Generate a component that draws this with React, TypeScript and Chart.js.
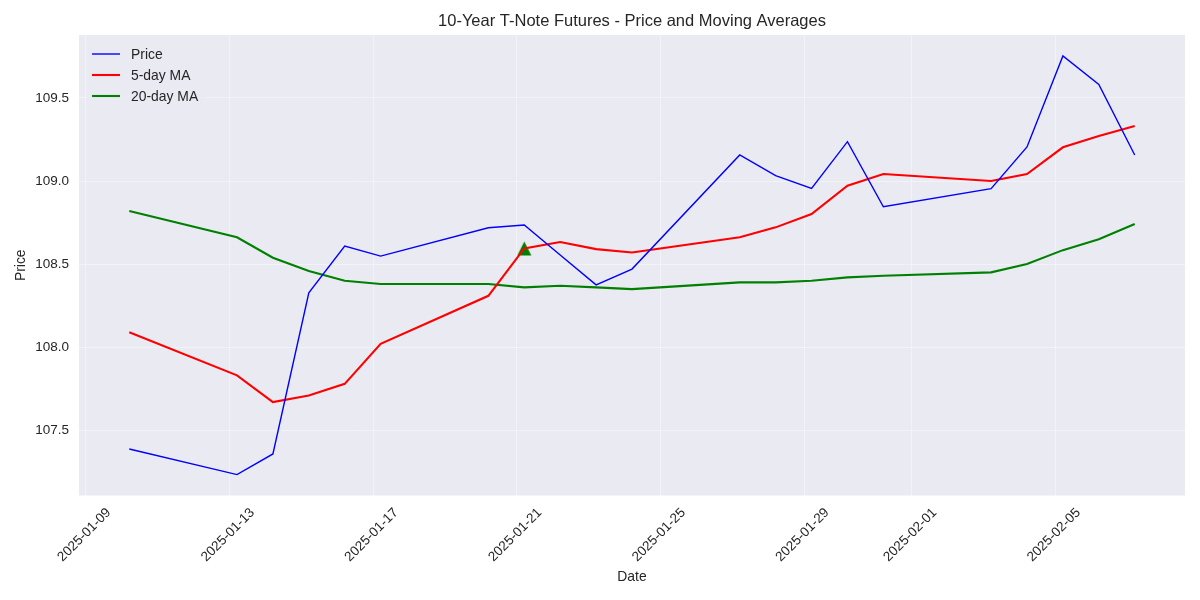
import React, { useEffect, useRef } from 'react';
import { Chart, registerables } from 'chart.js';

Chart.register(...registerables);

// ---------- data ----------
const dates = [
  '2025-01-10', '2025-01-13', '2025-01-14', '2025-01-15', '2025-01-16', '2025-01-17',
  '2025-01-20', '2025-01-21', '2025-01-22', '2025-01-23', '2025-01-24', '2025-01-27',
  '2025-01-28', '2025-01-29', '2025-01-30', '2025-01-31', '2025-02-03', '2025-02-04',
  '2025-02-05', '2025-02-06', '2025-02-07',
];
const price = [
  107.387, 107.233, 107.357, 108.327, 108.608, 108.548,
  108.719, 108.735, 108.555, 108.375, 108.470, 109.157,
  109.032, 108.956, 109.237, 108.845, 108.954, 109.205,
  109.753, 109.582, 109.157,
];
const ma5 = [
  108.090, 107.830, 107.669, 107.709, 107.779, 108.020,
  108.309, 108.594, 108.633, 108.590, 108.570, 108.661,
  108.721, 108.801, 108.972, 109.042, 109.000, 109.042,
  109.203, 109.271, 109.331,
];
const ma20 = [
  108.819, 108.661, 108.538, 108.458, 108.400, 108.380,
  108.380, 108.360, 108.370, 108.360, 108.349, 108.390,
  108.390, 108.400, 108.420, 108.430, 108.450, 108.500,
  108.584, 108.649, 108.741,
];
const signalDates = ['2025-01-21'];
const signalValues = [108.594];

const xTickDates = [
  '2025-01-09', '2025-01-13', '2025-01-17', '2025-01-21',
  '2025-01-25', '2025-01-29', '2025-02-01', '2025-02-05',
];
const yTicks = [107.5, 108.0, 108.5, 109.0, 109.5];

const TITLE = '10-Year T-Note Futures - Price and Moving Averages';
const BAR_HOUR = 5; // timestamps are at 05:00 UTC
const BASE = Date.parse(xTickDates[0] + 'T00:00:00Z');
const toDay = (s: string, hour: number) => (Date.parse(s + 'T00:00:00Z') - BASE) / 864e5 + hour / 24;

// ---------- style ----------
const FONT = "'Liberation Sans', Arial, 'DejaVu Sans', sans-serif";
const TEXT = '#262626';
const GRID = 'rgba(255,255,255,0.4)';
const AX_BG = '#EAEAF2';

export default function App() {
  const ref = useRef<HTMLCanvasElement | null>(null);

  useEffect(() => {
    document.body.style.margin = '0';
    const canvas = ref.current;
    if (!canvas) return;

    const xs = dates.map((d) => toDay(d, BAR_HOUR));
    const xRange = xs[xs.length - 1] - xs[0];
    const xMin = xs[0] - 0.05 * xRange;
    const xMax = xs[xs.length - 1] + 0.05 * xRange;
    const allY = [...price, ...ma5, ...ma20, ...signalValues];
    const yLo = Math.min(...allY);
    const yHi = Math.max(...allY);
    const yMin = yLo - 0.05 * (yHi - yLo);
    const yMax = yHi + 0.05 * (yHi - yLo);

    // matplotlib-like '^' marker
    const tri = document.createElement('canvas');
    tri.width = 15;
    tri.height = 15;
    const tc = tri.getContext('2d')!;
    tc.fillStyle = '#008000';
    tc.beginPath();
    tc.moveTo(7.5, 0.5);
    tc.lineTo(14.5, 14.5);
    tc.lineTo(0.5, 14.5);
    tc.closePath();
    tc.fill();

    const bgPlugin = {
      id: 'axbg',
      beforeDraw(chart: any) {
        const { ctx, chartArea: a } = chart;
        ctx.save();
        ctx.fillStyle = AX_BG;
        ctx.fillRect(a.left, a.top, a.right - a.left, a.bottom - a.top);
        ctx.restore();
      },
    };

    const textPlugin = {
      id: 'texts',
      afterDraw(chart: any) {
        const { ctx, chartArea: a } = chart;
        const sx = chart.scales.x;
        ctx.save();
        // title centred over the axes
        ctx.fillStyle = TEXT;
        ctx.font = `16.5px ${FONT}`;
        ctx.textAlign = 'center';
        ctx.textBaseline = 'middle';
        ctx.fillText(TITLE, (a.left + a.right) / 2, 21.5);
        // rotated date tick labels
        ctx.font = `13.5px ${FONT}`;
        xTickDates.forEach((d) => {
          const px = sx.getPixelForValue(toDay(d, 0));
          ctx.save();
          ctx.translate(px - 1.5, a.bottom + 39.5);
          ctx.rotate(-Math.PI / 4);
          ctx.fillText(d, 0, 0);
          ctx.restore();
        });
        ctx.restore();
      },
    };

    const legendPlugin = {
      id: 'mlegend',
      afterDatasetsDraw(chart: any) {
        const { ctx, chartArea: a } = chart;
        const x0 = a.left + 7;
        const y0 = a.top + 7;
        ctx.save();
        ctx.fillStyle = 'rgba(234,234,242,0.8)';
        ctx.fillRect(x0, y0, 120, 66);
        ctx.font = `13.9px ${FONT}`;
        ctx.textBaseline = 'middle';
        ctx.textAlign = 'left';
        chart.data.datasets.slice(0, 3).forEach((ds: any, i: number) => {
          const y = a.top + 19 + i * 21;
          ctx.strokeStyle = ds.borderColor;
          ctx.lineWidth = ds.borderWidth;
          ctx.beginPath();
          ctx.moveTo(a.left + 13, y);
          ctx.lineTo(a.left + 41, y);
          ctx.stroke();
          ctx.fillStyle = TEXT;
          ctx.fillText(ds.label, a.left + 52, y + 1);
        });
        ctx.restore();
      },
    };

    const series = (label: string, vals: number[], color: string, w: number) => ({
      label,
      data: dates.map((d, i) => ({ x: toDay(d, BAR_HOUR), y: vals[i] })),
      borderColor: color,
      backgroundColor: color,
      borderWidth: w,
      pointRadius: 0,
      tension: 0,
      fill: false,
    });

    const chart = new Chart(canvas, {
      type: 'line',
      data: {
        datasets: [
          series('Price', price, '#0000FF', 1.4),
          series('5-day MA', ma5, '#FF0000', 2.1),
          series('20-day MA', ma20, '#008000', 2.1),
          {
            label: 'Signal',
            data: signalDates.map((d, i) => ({ x: toDay(d, BAR_HOUR), y: signalValues[i] })),
            showLine: false,
            pointStyle: tri as any,
            pointRadius: 8,
            borderWidth: 0,
          } as any,
        ],
      },
      options: {
        animation: false,
        responsive: false,
        devicePixelRatio: 1,
        layout: { padding: { left: 0, right: 15, top: 35, bottom: 0 } },
        plugins: {
          legend: { display: false },
          tooltip: { enabled: false },
          title: { display: false },
        },
        scales: {
          x: {
            type: 'linear',
            min: xMin,
            max: xMax,
            afterBuildTicks: (s: any) => {
              s.ticks = xTickDates.map((d) => ({ value: toDay(d, 0) }));
            },
            afterFit: (s: any) => {
              s.height = 104.5;
            },
            ticks: { display: false },
            grid: { color: GRID, lineWidth: 1, drawTicks: false },
            border: { display: false },
            title: {
              display: true,
              text: 'Date',
              color: TEXT,
              font: { family: FONT, size: 13.9 },
              padding: { top: 0, bottom: 14.5 },
            },
          },
          y: {
            type: 'linear',
            min: yMin,
            max: yMax,
            afterBuildTicks: (s: any) => {
              s.ticks = yTicks.map((v) => ({ value: v }));
            },
            afterFit: (s: any) => {
              s.width = 79;
            },
            ticks: {
              color: TEXT,
              font: { family: FONT, size: 13.5 },
              padding: 10,
              callback: (v: any) => Number(v).toFixed(1),
            },
            grid: { color: GRID, lineWidth: 1, drawTicks: false },
            border: { display: false },
            title: {
              display: true,
              text: 'Price',
              color: TEXT,
              font: { family: FONT, size: 13.9 },
              padding: { top: 13, bottom: 0 },
            },
          },
        },
      },
      plugins: [bgPlugin, textPlugin, legendPlugin],
    });

    return () => chart.destroy();
  }, []);

  return (
    <div style={{ width: 1200, height: 600 }}>
      <canvas ref={ref} width={1200} height={600} style={{ display: 'block' }} />
    </div>
  );
}
